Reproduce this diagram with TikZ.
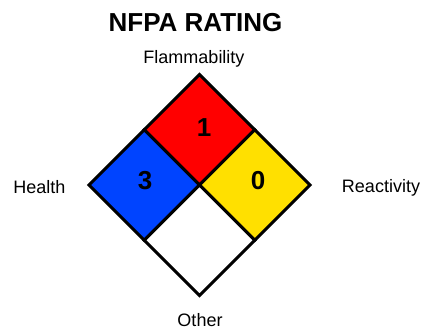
\documentclass[tikz,border=0pt]{standalone}
\usepackage{fontspec}
\setmainfont{Liberation Sans}
\definecolor{nfpared}{RGB}{255,0,0}
\definecolor{nfpablue}{RGB}{0,68,255}
\definecolor{nfpayellow}{RGB}{255,224,0}
\begin{document}
\begin{tikzpicture}[x=1pt,y=1pt,
  panel/.style={draw=black,line width=3pt,line join=miter},
  label/.style={font=\fontsize{18}{20}\selectfont,anchor=base,inner sep=0pt},
  rating/.style={font=\fontsize{26}{28}\selectfont\bfseries,anchor=base,inner sep=0pt}]
\useasboundingbox (0,0) rectangle (423,329);
% diamond corners and edge midpoints
\coordinate (T) at (199.5,254.5);
\coordinate (L) at (89,144);
\coordinate (R) at (310,144);
\coordinate (B) at (199.5,33.5);
\coordinate (C) at (199.5,144);
\coordinate (TL) at (144.25,199.25);
\coordinate (TR) at (254.75,199.25);
\coordinate (BL) at (144.25,88.75);
\coordinate (BR) at (254.75,88.75);
% four quadrants
\filldraw[panel,fill=nfpared] (T) -- (TR) -- (C) -- (TL) -- cycle;
\filldraw[panel,fill=nfpablue] (TL) -- (C) -- (BL) -- (L) -- cycle;
\filldraw[panel,fill=nfpayellow] (TR) -- (R) -- (BR) -- (C) -- cycle;
\filldraw[panel,fill=white] (C) -- (BR) -- (B) -- (BL) -- cycle;
% title and labels
\node[font=\fontsize{26}{28}\selectfont\bfseries,anchor=base,inner sep=0pt] (title) at (195.5,297) {NFPA RATING};
\node[label] (flam) at (194,265.7) {Flammability};
\node[label] (health) at (39.5,135.7) {Health};
\node[label] (react) at (381,136) {Reactivity};
\node[label] (other) at (200,2.5) {Other};
% ratings
\node[rating] (nflam) at (204,192.3) {1};
\node[rating] (nhealth) at (145,139.7) {3};
\node[rating] (nreact) at (258,139.7) {0};
\end{tikzpicture}
\end{document}
